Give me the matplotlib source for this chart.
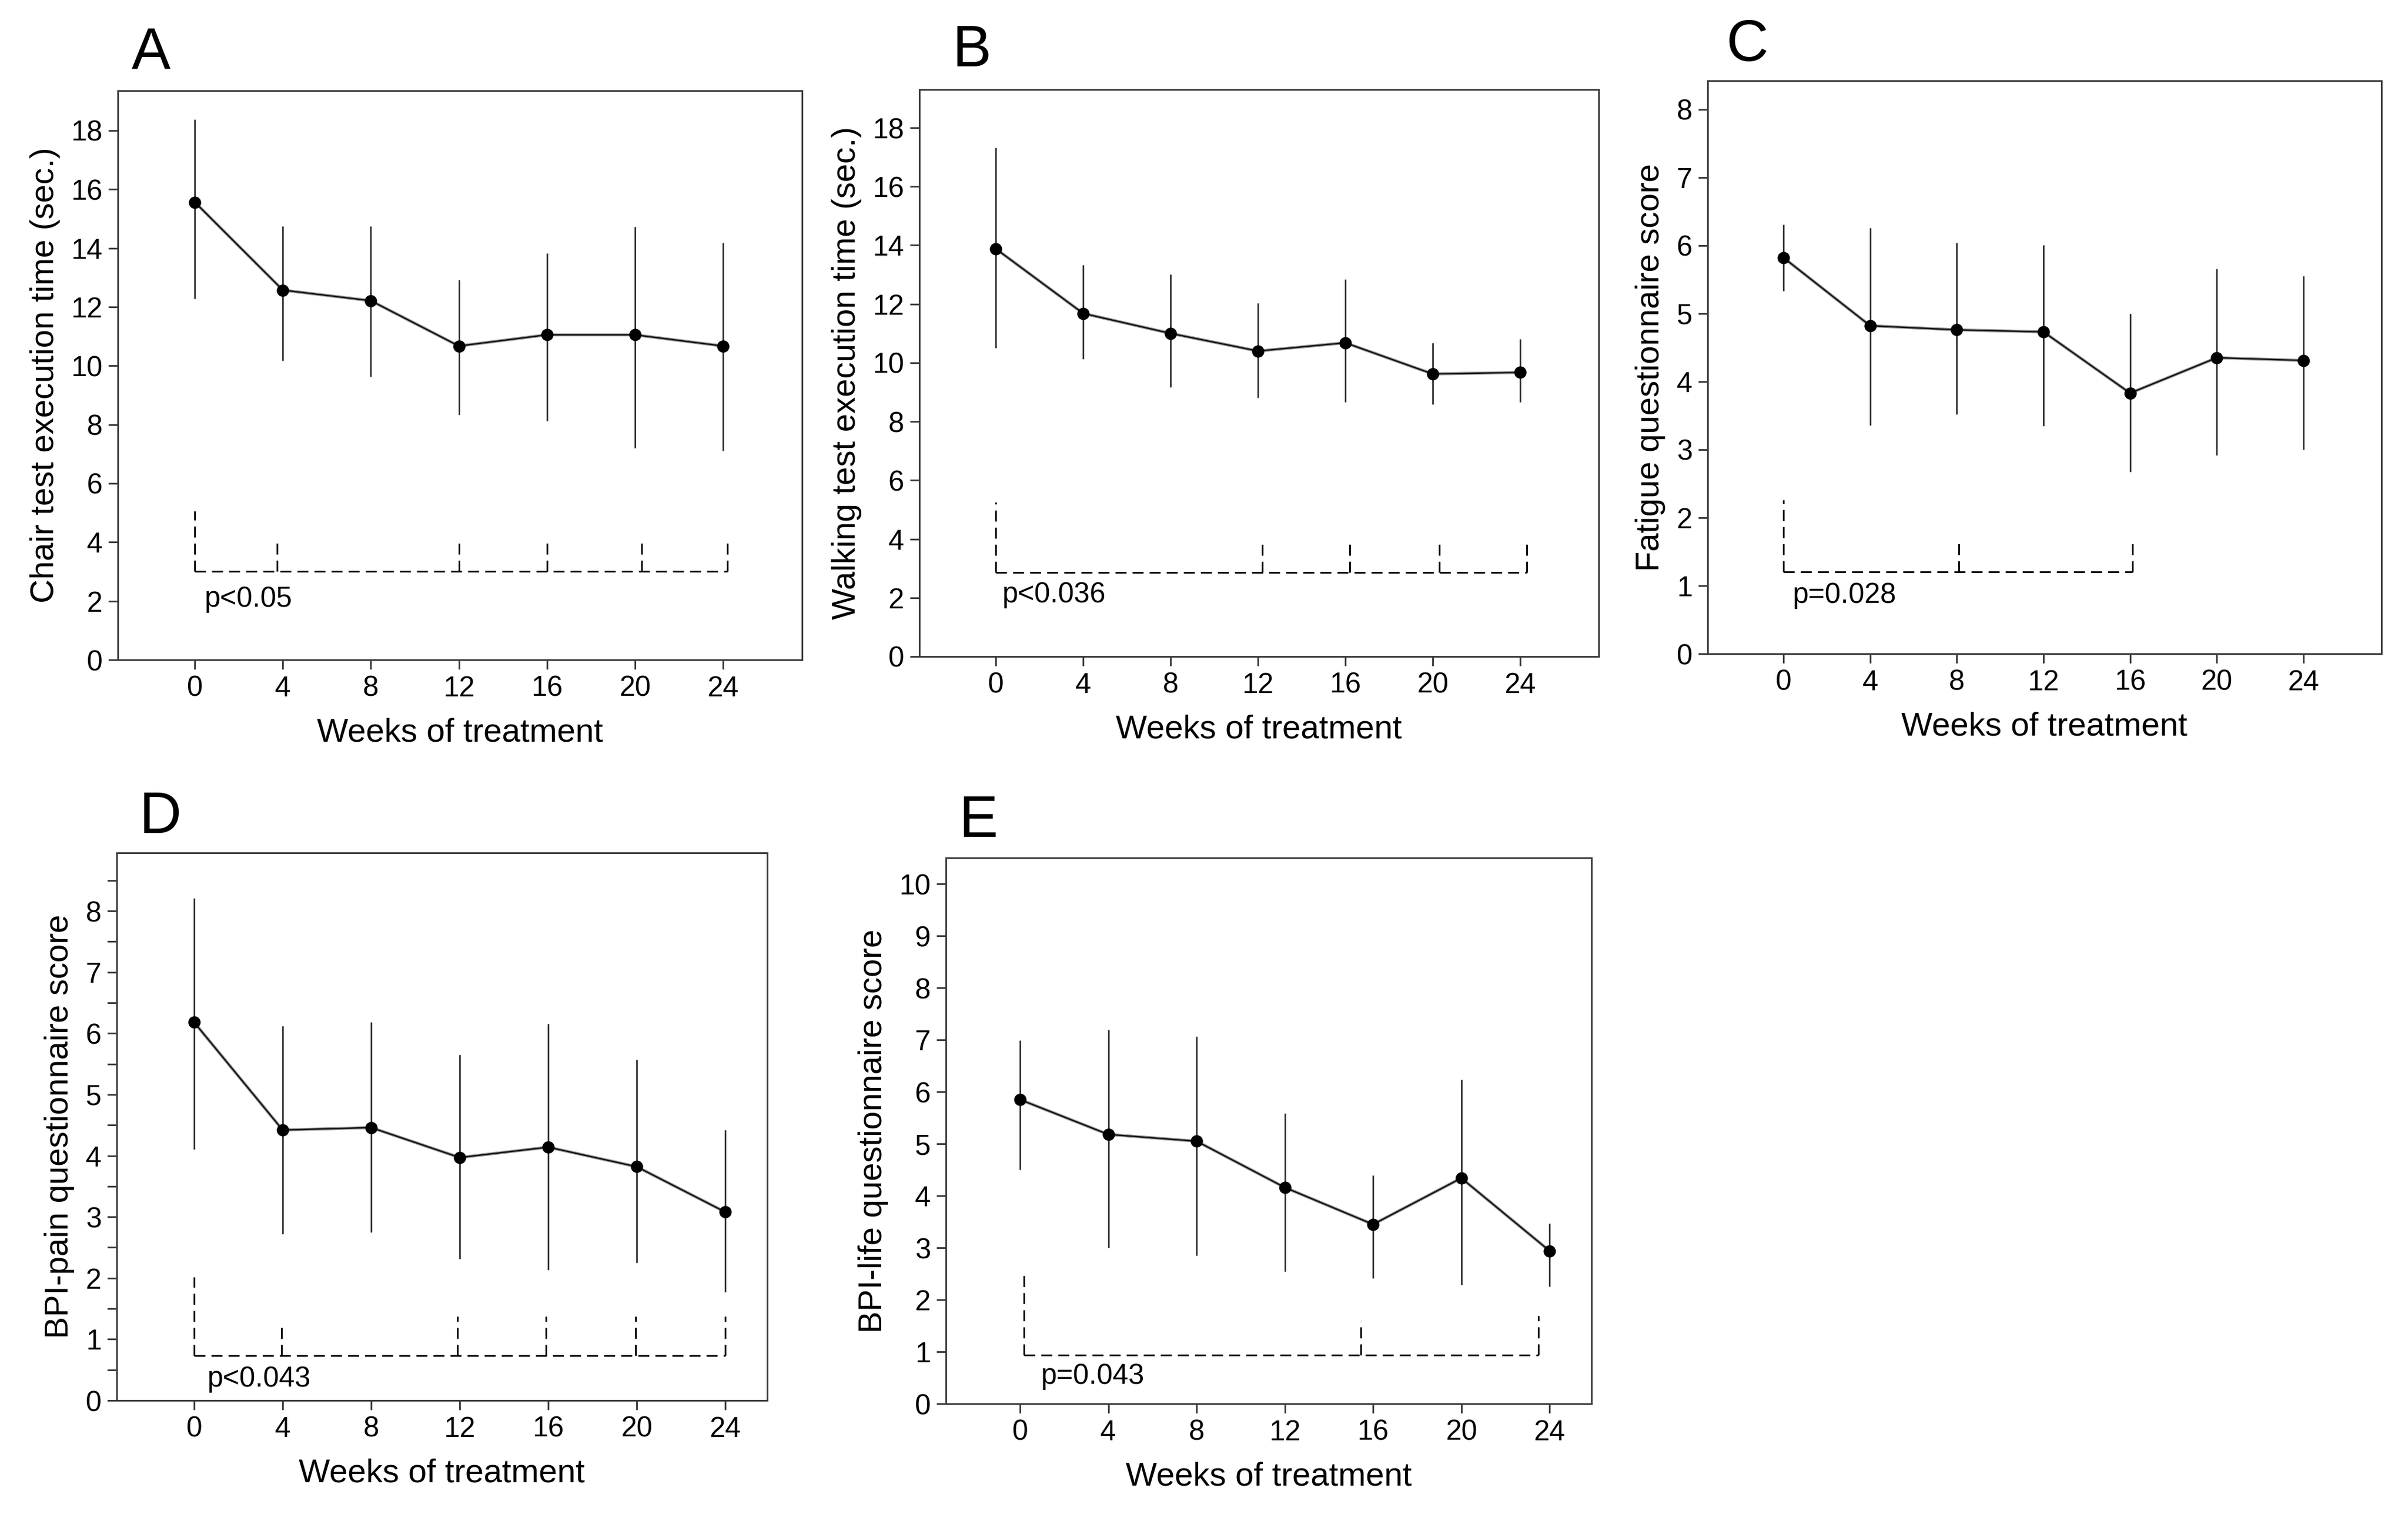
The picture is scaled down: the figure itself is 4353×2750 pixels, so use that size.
import numpy as np
import matplotlib.pyplot as plt
from matplotlib.ticker import MultipleLocator

plt.rcParams['font.family'] = ['Liberation Sans', 'DejaVu Sans']

weeks = [0, 4, 8, 12, 16, 20, 24]

# A - chair test
chair_mean = [15.56, 12.57, 12.21, 10.67, 11.05, 11.05, 10.67]
chair_hi = [18.37, 14.75, 14.75, 12.92, 13.83, 14.72, 14.18]
chair_lo = [12.28, 10.18, 9.62, 8.33, 8.13, 7.20, 7.10]

# B - walking test
walk_mean = [13.88, 11.68, 11.00, 10.40, 10.68, 9.62, 9.67]
walk_hi = [17.33, 13.34, 13.02, 12.03, 12.84, 10.68, 10.80]
walk_lo = [10.51, 10.13, 9.17, 8.82, 8.66, 8.58, 8.66]

# C - fatigue
fat_mean = [5.82, 4.82, 4.76, 4.73, 3.83, 4.35, 4.31]
fat_hi = [6.31, 6.26, 6.04, 6.01, 5.00, 5.66, 5.55]
fat_lo = [5.33, 3.36, 3.52, 3.35, 2.67, 2.92, 3.00]

# D - BPI pain
pain_mean = [6.18, 4.42, 4.46, 3.97, 4.14, 3.82, 3.08]
pain_hi = [8.21, 6.12, 6.18, 5.65, 6.16, 5.57, 4.42]
pain_lo = [4.10, 2.72, 2.75, 2.31, 2.13, 2.25, 1.77]

# E - BPI life
life_mean = [5.85, 5.18, 5.05, 4.16, 3.45, 4.34, 2.94]
life_hi = [6.99, 7.19, 7.06, 5.59, 4.39, 6.23, 3.47]
life_lo = [4.50, 3.00, 2.85, 2.54, 2.42, 2.29, 2.26]

# significance brackets (weeks where the dashed legs stand, their top, base level)
br_A_x = [0, 3.75, 12, 16, 20.3, 24.2]
br_A_top = [5.05, 4.04, 4.0, 4.0, 4.0, 4.0]
br_A_base = 3.0
br_B_x = [0, 12.2, 16.2, 20.3, 24.3]
br_B_top = [5.25, 3.95, 3.95, 3.95, 3.95]
br_B_base = 2.86
br_C_x = [0, 8.1, 16.1]
br_C_top = [2.26, 1.65, 1.65]
br_C_base = 1.2
br_D_x = [0, 3.95, 11.9, 15.9, 19.95, 24]
br_D_top = [2.02, 1.25, 1.37, 1.37, 1.37, 1.37]
br_D_base = 0.73
br_E_x = [0.17, 15.45, 23.5]
br_E_top = [2.47, 1.6, 1.69]
br_E_base = 0.94

p_texts = ['p<0.05', 'p<0.036', 'p=0.028', 'p<0.043', 'p=0.043']

W, H = 4353, 2750
fig = plt.figure(figsize=(W / 200, H / 200), dpi=200)


def box(l, t, r, b):
    return [l / W, 1 - b / H, (r - l) / W, (b - t) / H]


spine_col = '#3c3c3c'
dash = (6.5, 3.6)


def panel(rect, mean, lo, hi, ylab, xlim, ymax, ystep, br_x, br_top, br_base,
          ptxt, ptxt_pos, letter, letter_pos, minor=False):
    ax = fig.add_axes(rect)
    ax.vlines(weeks, lo, hi, color='#2b2b2b', lw=1.0, zorder=2)
    ax.plot(weeks, mean, '-', color='#9a9a9a', lw=2.0, zorder=3)
    ax.plot(weeks, mean, '-', color='#111111', lw=0.9, zorder=4)
    ax.plot(weeks, mean, 'o', color='black', ms=7, zorder=5)

    # bracket
    ax.plot([br_x[0], br_x[-1]], [br_base, br_base], color='black', lw=1.1,
            dashes=dash)
    for xx, tt in zip(br_x, br_top):
        ax.plot([xx, xx], [br_base, tt], color='black', lw=1.1, dashes=dash)
    ax.text(ptxt_pos[0], ptxt_pos[1], ptxt, fontsize=18.5, va='center',
            ha='left')

    ax.set_xlim(*xlim)
    ax.set_ylim(0, ymax)
    ax.set_xticks(weeks)
    ax.yaxis.set_major_locator(MultipleLocator(ystep))
    if minor:
        ax.yaxis.set_minor_locator(MultipleLocator(0.5))
    ax.tick_params(axis='both', which='both', direction='out', length=6,
                   width=1.1, color=spine_col, labelsize=18.5, pad=4)
    for s in ax.spines.values():
        s.set_color(spine_col)
        s.set_linewidth(1.1)
    ax.set_xlabel('Weeks of treatment', fontsize=21.5, labelpad=10)
    ax.set_ylabel(ylab, fontsize=21.5, labelpad=7)
    ax.text(letter_pos[0], letter_pos[1], letter, transform=ax.transAxes,
            fontsize=38, va='baseline', ha='left')
    return ax


panel(box(213, 164, 1450, 1193), chair_mean, chair_lo, chair_hi,
      'Chair test execution time (sec.)', (-3.5, 27.6), 19.35, 2,
      br_A_x, br_A_top, br_A_base, p_texts[0], (0.45, 2.05), 'A', (0.02, 1.038))
panel(box(1662, 162, 2890, 1187), walk_mean, walk_lo, walk_hi,
      'Walking test execution time (sec.)', (-3.5, 27.6), 19.3, 2,
      br_B_x, br_B_top, br_B_base, p_texts[1], (0.3, 2.1), 'B', (0.048, 1.041))
panel(box(3087, 146, 4305, 1182), fat_mean, fat_lo, fat_hi,
      'Fatigue questionnaire score', (-3.5, 27.6), 8.42, 1,
      br_C_x, br_C_top, br_C_base, p_texts[2], (0.43, 0.86), 'C', (0.028, 1.035))
panel(box(211, 1542, 1387, 2532), pain_mean, pain_lo, pain_hi,
      'BPI-pain questionnaire score', (-3.5, 25.9), 8.95, 1,
      br_D_x, br_D_top, br_D_base, p_texts[3], (0.58, 0.35), 'D', (0.034, 1.036),
      minor=True)
panel(box(1710, 1551, 2877, 2538), life_mean, life_lo, life_hi,
      'BPI-life questionnaire score', (-3.36, 25.9), 10.5, 1,
      br_E_x, br_E_top, br_E_base, p_texts[4], (0.94, 0.53), 'E', (0.02, 1.038))

fig.savefig('out.png', dpi=200, facecolor='white')
